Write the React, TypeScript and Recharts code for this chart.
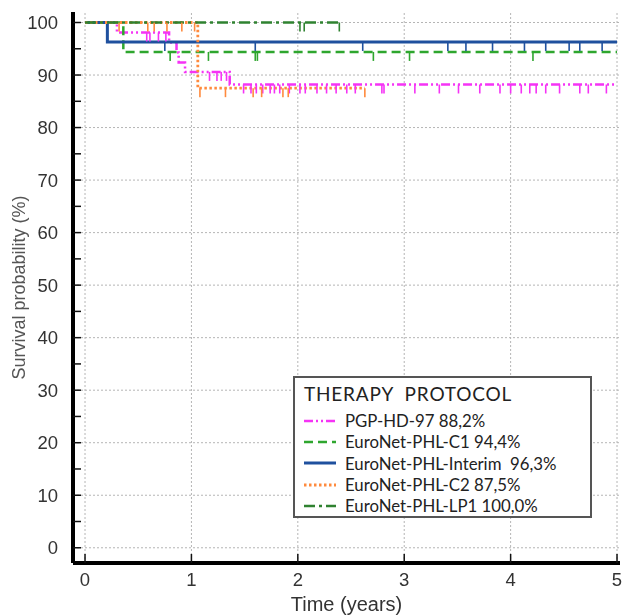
import React from 'react';
import { ComposedChart, Line, Scatter, XAxis, YAxis, ReferenceLine, Legend } from 'recharts';

// ---- data ----
const xTicks = [0, 1, 2, 3, 4, 5];
const yTicks = [0, 5, 10, 15, 20, 25, 30, 35, 40, 45, 50, 55, 60, 65, 70, 75, 80, 85, 90, 95, 100];
const yGrid = [0, 10, 20, 30, 40, 50, 60, 70, 80, 90, 100];

const pgpTimes = [0, 0.3, 0.79, 0.86, 0.88, 0.94, 1.36, 5.0];
const pgpSurv = [100, 98.1, 96.2, 94.3, 92.4, 90.6, 88.2, 88.2];
const pgpCensor = [0.58, 0.61, 0.69, 0.76, 1.17, 1.24, 1.28, 1.33, 1.49, 1.56, 1.61, 1.67, 1.74, 1.78, 1.83, 1.92, 2.02, 2.07, 2.18, 2.27, 2.36, 2.46, 2.54, 2.79, 2.81, 3.1, 3.33, 3.51, 3.71, 3.9, 4.0, 4.1, 4.18, 4.24, 4.33, 4.46, 4.65, 4.73, 4.9];

const c1Times = [0, 0.36, 5.0];
const c1Surv = [100, 94.4, 94.4];
const c1Censor = [0.8, 1.16, 1.6, 1.62, 2.71, 3.05, 4.21];

const interimTimes = [0, 0.21, 5.0];
const interimSurv = [100, 96.3, 96.3];
const interimCensor = [0.75, 1.6, 2.61, 3.41, 3.58, 3.83, 4.13, 4.33, 4.55, 4.65, 4.86];

const c2Times = [0, 1.06, 2.63];
const c2Surv = [100, 87.5, 87.5];
const c2Censor = [0.32, 0.59, 0.65, 0.77, 0.91, 1.03, 1.08, 1.32, 1.58, 1.66, 1.86, 1.91, 2.63];

const lp1Times = [0, 2.39];
const lp1Surv = [100, 100];
const lp1Censor = [2.02, 2.06, 2.39];

const legendTitle = 'THERAPY  PROTOCOL';

type Series = {
  name: string;
  times: number[];
  surv: number[];
  censor: number[];
  color: string;
  dash: string;
  width: number;
};

const series: Series[] = [
  { name: 'PGP-HD-97 88,2%', times: pgpTimes, surv: pgpSurv, censor: pgpCensor, color: '#f533f5', dash: '9 3 2 3 2 3', width: 2.5 },
  { name: 'EuroNet-PHL-C1 94,4%', times: c1Times, surv: c1Surv, censor: c1Censor, color: '#2ea62e', dash: '9 5', width: 2.5 },
  { name: 'EuroNet-PHL-Interim  96,3%', times: interimTimes, surv: interimSurv, censor: interimCensor, color: '#1f509e', dash: '', width: 3 },
  { name: 'EuroNet-PHL-C2 87,5%', times: c2Times, surv: c2Surv, censor: c2Censor, color: '#ff8a3d', dash: '2.5 2.5', width: 2.8 },
  { name: 'EuroNet-PHL-LP1 100,0%', times: lp1Times, surv: lp1Surv, censor: lp1Censor, color: '#2f8230', dash: '11 4 3 4', width: 2.5 },
];

const survAt = (times: number[], surv: number[], t: number) => {
  let s = surv[0];
  for (let i = 0; i < times.length; i++) if (times[i] <= t) s = surv[i];
  return s;
};

const lineData = (s: Series) => s.times.map((t, i) => ({ t, s: s.surv[i] }));
const censorData = (s: Series) => s.censor.map((t) => ({ t, s: survAt(s.times, s.surv, t) }));

const FONT = '"Liberation Sans", Arial, sans-serif';

const YTick = (props: any) => {
  const { x, y, payload } = props;
  const v = payload.value;
  const axisX = x + 15;
  return (
    <g>
      <line x1={axisX} x2={axisX + 8} y1={y} y2={y} stroke="#111" strokeWidth={1.5} />
      {v % 10 === 0 && (
        <text x={x} y={y} dy={6.5} textAnchor="end" fontSize={18.5} fill="#333" fontFamily={FONT}>
          {v}
        </text>
      )}
    </g>
  );
};

const XTick = (props: any) => {
  const { x, y, payload } = props;
  const axisY = y - 8;
  return (
    <g>
      <line x1={x} x2={x} y1={axisY} y2={axisY - 9} stroke="#111" strokeWidth={1.5} />
      <text x={x} y={y} dy={15} textAnchor="middle" fontSize={18.5} fill="#333" fontFamily={FONT}>
        {payload.value}
      </text>
    </g>
  );
};

const makeCensorShape = (color: string) => (props: any) => {
  const { cx, cy } = props;
  if (cx == null || cy == null) return <g />;
  return <line x1={cx} x2={cx} y1={cy} y2={cy + 9} stroke={color} strokeWidth={1.6} />;
};

const LegendBox = () => (
  <div
    style={{
      border: '2px solid #555',
      background: '#fff',
      width: 299,
      height: 142,
      boxSizing: 'border-box',
      fontFamily: 'Lato, "Open Sans", sans-serif',
      color: '#222',
      padding: '4px 0 0 9px',
    }}
  >
    <div style={{ fontSize: 19, letterSpacing: 0.8, lineHeight: '24px', marginBottom: 4, whiteSpace: 'pre' }}>{legendTitle}</div>
    {series.map((s) => (
      <div key={s.name} style={{ display: 'flex', alignItems: 'center', height: 21.3, fontSize: 16.8, whiteSpace: 'pre' }}>
        <svg width={32} height={10} style={{ marginRight: 9 }}>
          <line x1={0} x2={32} y1={5} y2={5} stroke={s.color} strokeWidth={s.width} strokeDasharray={s.dash || undefined} />
        </svg>
        <span>{s.name}</span>
      </div>
    ))}
  </div>
);

export default function App() {
  return (
    <div style={{ position: 'fixed', left: 8, top: 8, width: 616, height: 607 }}>
      <ComposedChart width={616} height={607} margin={{ top: 4, right: 4, left: 0, bottom: 0 }}>
        <XAxis
          type="number"
          dataKey="t"
          domain={[-0.113, 5.028]}
          ticks={xTicks}
          allowDataOverflow
          tickSize={0}
          tickMargin={8}
          tick={<XTick />}
          height={52}
          axisLine={{ stroke: '#000', strokeWidth: 4 }}
          label={{ value: 'Time (years)', position: 'insideBottom', offset: 4, fontSize: 20, fill: '#333', fontFamily: FONT }}
        />
        <YAxis
          type="number"
          dataKey="s"
          domain={[-2.9, 102]}
          ticks={yTicks}
          allowDataOverflow
          interval={0}
          tickSize={0}
          tickMargin={15}
          tick={<YTick />}
          width={65}
          axisLine={{ stroke: '#000', strokeWidth: 4 }}
          label={{
            value: 'Survival probability (%)',
            angle: -90,
            position: 'insideLeft',
            offset: 11,
            fontSize: 18,
            fill: '#555',
            fontFamily: FONT,
            style: { textAnchor: 'middle' },
          }}
        />
        {yGrid.map((v) => (
          <ReferenceLine key={'gy' + v} y={v} stroke="#b5b5b5" strokeDasharray="2 2" strokeWidth={1} />
        ))}
        {xTicks.map((v) => (
          <ReferenceLine key={'gx' + v} x={v} stroke="#b5b5b5" strokeDasharray="2 2" strokeWidth={1} />
        ))}
        {series.map((s) => (
          <Line
            key={'l' + s.name}
            data={lineData(s)}
            dataKey="s"
            type="stepAfter"
            stroke={s.color}
            strokeWidth={s.width}
            strokeDasharray={s.dash || undefined}
            dot={false}
            activeDot={false}
            isAnimationActive={false}
          />
        ))}
        {series.map((s) => (
          <Scatter
            key={'c' + s.name}
            data={censorData(s)}
            dataKey="s"
            shape={makeCensorShape(s.color)}
            isAnimationActive={false}
          />
        ))}
        <Legend
          layout="vertical"
          align="center"
          verticalAlign="middle"
          content={() => <LegendBox />}
          wrapperStyle={{ left: 285, top: 368, width: 299, height: 142 }}
        />
      </ComposedChart>
    </div>
  );
}
